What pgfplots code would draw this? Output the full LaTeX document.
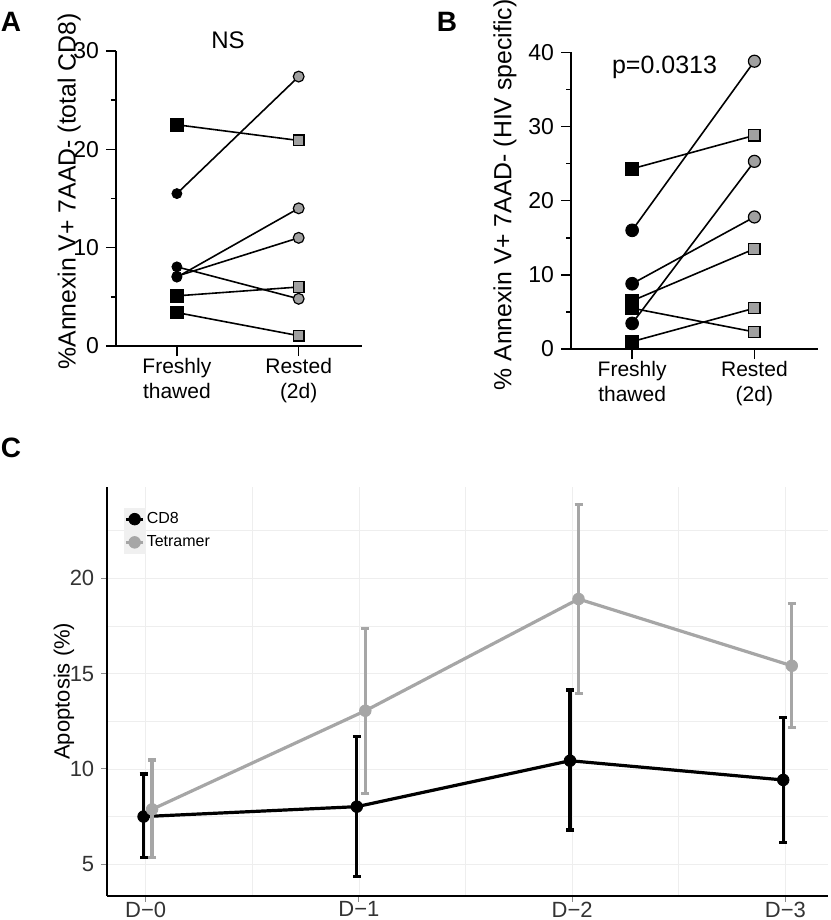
\documentclass[border=0pt]{standalone}
\usepackage{fontspec}
\setmainfont{Liberation Sans}
\usepackage{pgfplots}
\pgfplotsset{compat=1.18}
\definecolor{grayfill}{RGB}{160,160,160}
\definecolor{tetra}{RGB}{166,166,166}
\definecolor{gridc}{RGB}{238,238,238}

\pgfplotsset{
 pairstyle/.style={
   scale only axis, axis lines*=left, axis line style={line width=0.8pt,-},
   xmin=0.5, xmax=2.52, xtick={1,2},
   xticklabels={{Freshly\\thawed},{Rested\\(2d)}},
   xticklabel style={align=center, font=\fontsize{10.5}{12.5}\selectfont, yshift=2.5pt},
   yticklabel style={font=\fontsize{11.5}{13}\selectfont},
   tick align=outside, major tick length=5pt, minor tick length=2.5pt,
   tick style={line width=0.8pt, black},
   /pgf/number format/assume math mode=true,
   ylabel style={font=\fontsize{12.4}{14}\selectfont, anchor=center},
   clip=false,
 },
 pline/.style={black, line width=0.8pt, no marks},
}

\begin{document}
\begin{tikzpicture}
\useasboundingbox (0,0) rectangle (415pt,-460pt);

% ---------------- Panel A ----------------
\begin{axis}[pairstyle, at={(58pt,-173pt)}, anchor=south west,
  width=123pt, height=147.5pt,
  ymin=0, ymax=30, ytick={0,10,20,30}, minor ytick={5,15,25},
  ylabel={\%Annexin V+ 7AAD- (total CD8)},
  ylabel style={at={(axis description cs:-0.19,0.524)}}]
\addplot[pline] coordinates {(1,22.5) (2,20.9)};
\addplot[pline] coordinates {(1,15.5) (2,27.4)};
\addplot[pline] coordinates {(1,8.05) (2,4.8)};
\addplot[pline] coordinates {(1,7.0) (2,14.0)};
\addplot[pline] coordinates {(1,7.1) (2,11.0)};
\addplot[pline] coordinates {(1,5.1) (2,6.0)};
\addplot[pline] coordinates {(1,3.4) (2,1.05)};
\addplot[only marks, mark=square*, mark size=3.1pt, black] coordinates {(1,22.5) (1,5.1) (1,3.4)};
\addplot[only marks, mark=*, mark size=2.5pt, black] coordinates {(1,15.5) (1,8.05) (1,7.0) (1,7.1)};
\addplot[only marks, mark=square*, mark size=2.7pt, draw=black, fill=grayfill, mark options={line width=0.6pt}] coordinates {(2,20.9) (2,6.0) (2,1.05)};
\addplot[only marks, mark=*, mark size=2.7pt, draw=black, fill=grayfill, mark options={line width=0.6pt}] coordinates {(2,27.4) (2,14.0) (2,11.0) (2,4.8)};
\end{axis}

% ---------------- Panel B ----------------
\begin{axis}[pairstyle, at={(285.5pt,-174.5pt)}, anchor=south west,
  width=123.5pt, height=148.35pt,
  ymin=0, ymax=40, ytick={0,10,20,30,40}, minor ytick={5,15,25,35},
  ylabel={\% Annexin V+ 7AAD- (HIV specific)},
  ylabel style={at={(axis description cs:-0.267,0.519)}}]
\addplot[pline] coordinates {(1,24.3) (2,28.8)};
\addplot[pline] coordinates {(1,16.0) (2,38.8)};
\addplot[pline] coordinates {(1,8.8) (2,17.8)};
\addplot[pline] coordinates {(1,6.5) (2,13.5)};
\addplot[pline] coordinates {(1,5.5) (2,2.3)};
\addplot[pline] coordinates {(1,3.45) (2,25.3)};
\addplot[pline] coordinates {(1,1.0) (2,5.5)};
\addplot[only marks, mark=square*, mark size=3.3pt, black] coordinates {(1,24.3) (1,6.5) (1,5.5) (1,1.0)};
\addplot[only marks, mark=*, mark size=3.2pt, black] coordinates {(1,16.0) (1,8.8) (1,3.45)};
\addplot[only marks, mark=square*, mark size=2.8pt, draw=black, fill=grayfill, mark options={line width=0.6pt}] coordinates {(2,28.8) (2,13.5) (2,5.5) (2,2.3)};
\addplot[only marks, mark=*, mark size=3.0pt, draw=black, fill=grayfill, mark options={line width=0.6pt}] coordinates {(2,38.8) (2,25.3) (2,17.8)};
\end{axis}

% ---------------- Panel C ----------------
\begin{axis}[scale only axis, at={(53.65pt,-447.85pt)}, anchor=south west,
  width=360.35pt, height=204.5pt,
  xmin=-0.18, xmax=3.2, ymin=3.35, ymax=24.8,
  axis lines*=left, axis line style={line width=1.15pt,-},
  xtick={0,1,2,3}, xticklabels={D−0,D−1,D−2,D−3},
  ytick={5,10,15,20},
  minor xtick={0.5,1.5,2.5}, minor ytick={7.5,12.5,17.5,22.5},
  grid=both, grid style={gridc, line width=0.4pt},
  tick align=outside, major tick length=3pt, minor tick length=0pt,
  tick style={black!45, line width=0.5pt},
  ticklabel style={font=\fontsize{11}{12}\selectfont, text=black!80},
  xticklabel style={yshift=3.5pt},
  /pgf/number format/assume math mode=true,
  ylabel={Apoptosis (\%)},
  ylabel style={font=\fontsize{11}{13}\selectfont, at={(axis description cs:-0.060,0.5)}, anchor=center},
  legend style={at={(axis description cs:0.022,0.95)}, anchor=north west, draw=none, fill=none,
    font=\fontsize{8}{9.6}\selectfont, inner sep=0pt, row sep=0pt,
    cells={anchor=west}, nodes={inner sep=0.5pt}},
  legend image code/.code={
    \fill[black!6] (-1.5pt,-5pt) rectangle (8pt,5pt);
    \draw[mark repeat=2, mark phase=2, #1, line width=1.4pt] plot coordinates {(-1pt,0pt) (3.25pt,0pt) (7.5pt,0pt)};
  },
  clip=false]
\addplot[black, line width=1.6pt, mark=*, mark size=2.9pt, mark options={line width=0.4pt},
  error bars/.cd, y dir=both, y explicit,
  error bar style={line width=1.6pt, black},
  error mark options={rotate=90, mark size=2pt, line width=1.6pt, black}]
  table[x=x, y=y, y error plus=ep, y error minus=em] {
x y ep em
-0.01 7.50 2.23 2.15
0.99 8.02 3.67 3.67
1.99 10.43 3.71 3.63
2.99 9.42 3.27 3.27
};
\addlegendentry{CD8}
\addplot[tetra, line width=1.6pt, mark=*, mark size=2.9pt, mark options={line width=0.4pt},
  error bars/.cd, y dir=both, y explicit,
  error bar style={line width=1.6pt, tetra},
  error mark options={rotate=90, mark size=2pt, line width=1.6pt, tetra}]
  table[x=x, y=y, y error plus=ep, y error minus=em] {
x y ep em
0.03 7.88 2.59 2.53
1.03 13.05 4.33 4.33
2.03 18.91 4.97 4.94
3.03 15.41 3.25 3.22
};
\addlegendentry{Tetramer}
\end{axis}

% titles and panel letters
\node[font=\fontsize{12}{14}\selectfont] at (114pt,-20pt) {NS};
\node[font=\fontsize{12.5}{14}\selectfont] at (332.25pt,-33.5pt) {p=0.0313};
\node[font=\bfseries\fontsize{14}{16}\selectfont] at (5.5pt,-11pt) {A};
\node[font=\bfseries\fontsize{14}{16}\selectfont] at (223.5pt,-11pt) {B};
\node[font=\bfseries\fontsize{14}{16}\selectfont] at (5.5pt,-224pt) {C};
\end{tikzpicture}
\end{document}
